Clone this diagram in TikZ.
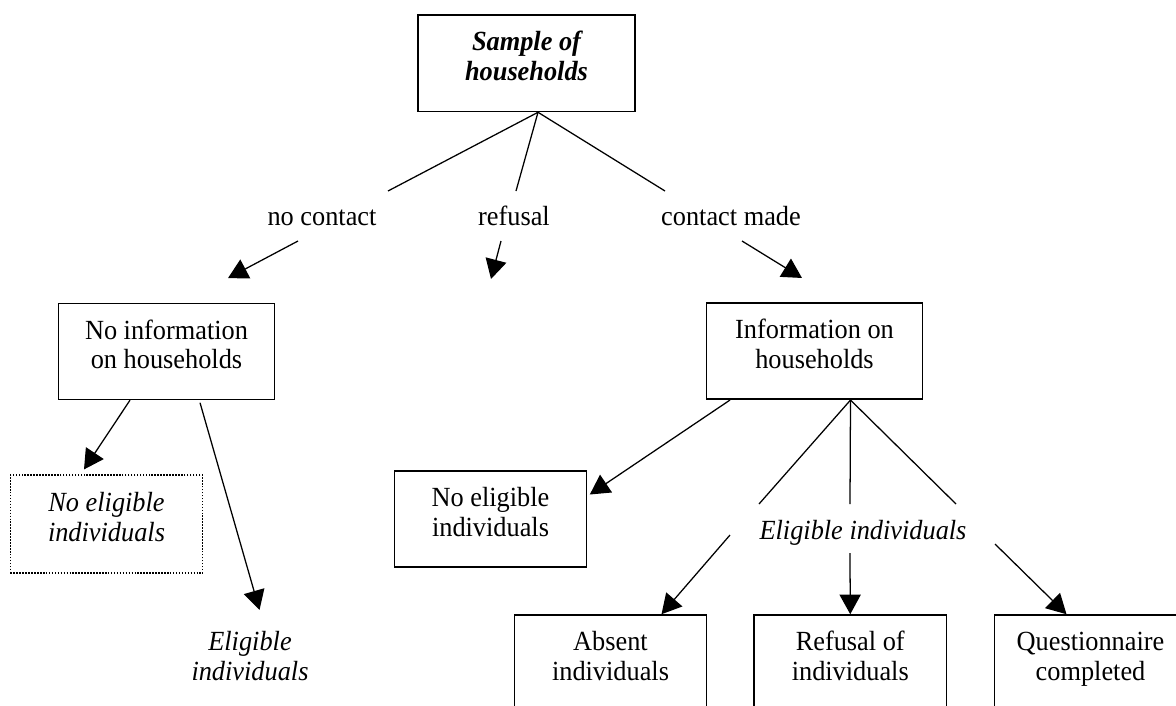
\documentclass[tikz,border=0pt]{standalone}
\usepackage{fontspec}
\setmainfont{Liberation Serif}[FakeStretch=0.95]
\usepackage{tikz}
\usetikzlibrary{calc}
\usetikzlibrary{arrows.meta}

\newcommand{\boxtext}[2]{\rule{0pt}{0.5cm}#1\\#2\rule[-0.37cm]{0pt}{0.37cm}}

\begin{document}
\begin{tikzpicture}[x=0.025cm, y=-0.025cm, line width=0.9pt,
		font=\fontsize{19.7}{21.3}\selectfont,
		arr/.style={-{Triangle[length=0.49cm, width=0.53cm]}}]

	\useasboundingbox (0,0) rectangle (1176,705);
	\clip (0,0) rectangle (1176,705);

	\begin{scope}[every node/.style={draw, line width=1.1pt, align=center, inner sep=0pt, minimum width=4.8cm, minimum height=2.4cm}]
		\node[minimum width=5.425cm, minimum height=2.4125cm, font=\fontsize{19.7}{21.3}\selectfont\bfseries\itshape] (sample) at (526.5, 63.25) {\boxtext{Sample of}{households}};
		\node[minimum width=5.4cm] (noinfo) at (166.5, 351.4) {\boxtext{No information}{on households}};
		\node[minimum width=5.4cm] (info) at (814.5, 351.25) {\boxtext{Information on}{households}};
		\node[densely dotted, line width=0.8pt, minimum height=2.45cm, font=\fontsize{19.7}{21.3}\selectfont\itshape] (noelig1) at (106.5, 524) {\boxtext{No eligible}{individuals}};
		\node (noelig2) at (490.5, 519.25) {\boxtext{No eligible}{individuals}};
		\node (absent) at (610.5, 663) {\boxtext{Absent}{individuals}};
		\node (refind) at (850.25, 663) {\boxtext{Refusal of}{individuals}};
		\node (quest) at (1090.5, 663) {\boxtext{Questionnaire}{completed}};
	\end{scope}

	\begin{scope}[every node/.style={inner sep=0pt, text height=0.45cm, text depth=0.15cm}]
		\node (nocontact) at (322, 219) {no contact};
		\node (refusal) at (514, 219) {refusal};
		\node (contact) at (731, 219) {contact made};
	\end{scope}
	\node[font=\fontsize{19.7}{21.3}\selectfont\itshape, align=center] (elig1) at (250, 656) {Eligible\\individuals};
	\node[font=\fontsize{19.7}{21.3}\selectfont\itshape] (elig2) at (863, 533) {Eligible individuals};

	\coordinate (top) at ($(sample.south)+(11.5,0)$);
	\foreach \n/\dx in {nocontact/66, refusal/2, contact/-66}
		\draw (top) -- ($(\n)+(\dx,-28)$);
	\draw[arr] ($(nocontact)+(-24,22)$) -- ($(noinfo.north)+(61.5,-24.5)$);
	\coordinate (refend) at (491, 279);
	\draw[arr] ($(refusal)+(-13,22)$) -- (refend);
	\draw[arr] ($(contact)+(11,22)$) -- ($(info.north)+(-12.5,-24.5)$);

	\draw[arr] ($(noinfo.south)+(-36.5,0)$) -- ($(noelig1.north)+(-22.5,-5)$);
	\draw[arr] ($(noinfo.south)+(33.5,2.5)$) -- ($(elig1)+(9.5,-46)$);

	\draw[arr] ($(info.south)+(-84.5,0)$) -- ($(noelig2.east)+(2.5,-24.75)$);
	\coordinate (mid) at ($(info.south)+(36,0)$);
	\foreach \dx in {-104,-13,93}
		\draw (mid) -- ($(elig2)+(\dx,-29)$);
	\draw[arr] ($(elig2)+(-133,2)$) -- ($(absent.north)+(51,0)$);
	\draw[arr] ($(elig2)+(-13,20)$) -- (refind.north);
	\draw[arr] ($(elig2)+(132,11)$) -- ($(quest.north)+(-24,0)$);

\end{tikzpicture}
\end{document}
